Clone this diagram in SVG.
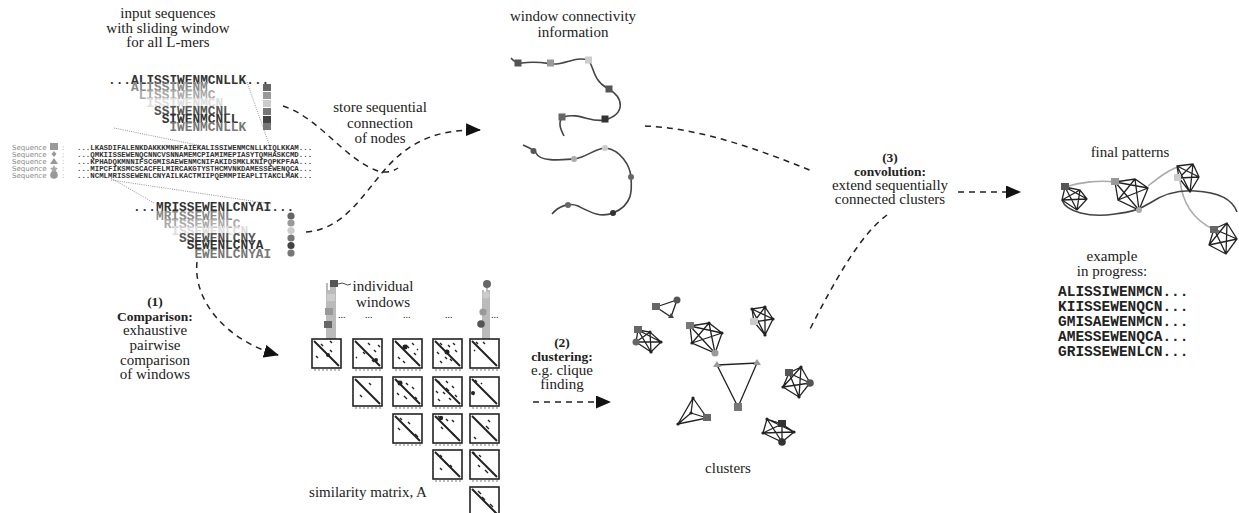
<svg xmlns="http://www.w3.org/2000/svg" xmlns:xlink="http://www.w3.org/1999/xlink" width="1239" height="513" viewBox="0 0 1239 513">
<style>
.lbl{font-family:"Liberation Serif","Times New Roman",serif;font-size:15px;fill:#222;text-anchor:middle}
.bd{font-weight:bold;font-size:13.5px}
.mono{font-family:"Liberation Mono","Courier New",monospace;font-weight:bold}
.seqrow{font-family:"Liberation Mono","Courier New",monospace;font-weight:bold;font-size:7.4px;fill:#333}
.seqlab{font-family:"DejaVu Sans",sans-serif;font-size:7px;fill:#888}
.dash{fill:none;stroke:#222;stroke-width:1.5;stroke-dasharray:6,5}
.dot{fill:none;stroke:#777;stroke-width:0.8;stroke-dasharray:1,1.2}
.curve{fill:none;stroke:#444;stroke-width:1.6}
.lcurve{fill:none;stroke:#aaa;stroke-width:1.6}
.edge{stroke:#222;stroke-width:1.3;fill:none}
.mb{fill:#fff;stroke:#222;stroke-width:1.6}
.md{stroke:#222;stroke-width:1.4;fill:none}
</style>
<defs>
<marker id="ah" markerWidth="15" markerHeight="13" refX="14" refY="6.5" orient="auto" markerUnits="userSpaceOnUse"><path d="M0,0 L15,6.5 L0,13 z" fill="#111"/></marker>
<g id="box">
<rect class="mb" x="0" y="0" width="29" height="29"/>
<path d="M2,2 L27,27" stroke="#222" stroke-width="2"/>
<path d="M3,29v3M7,29v3M11,29v3M15,29v3M19,29v3M23,29v3M27,29v3" stroke="#555" stroke-width="0.8"/>
</g>
</defs>

<g id="input-title">
<text class="lbl" x="168" y="18">input sequences</text>
<text class="lbl" x="168" y="33">with sliding window</text>
<text class="lbl" x="168" y="47">for all L-mers</text>
</g>

<g id="window-group-1">
<path class="dot" d="M247,82 L270,147"/>
<path class="dot" d="M114,128 L207,147"/>
<text class="mono" x="108" y="84" font-size="12.8" fill="#333">...ALISSIWENMCNLLK...</text>
<text class="mono" x="131" y="91" font-size="12.8" fill="#888">ALISSIWENM</text>
<text class="mono" x="138.7" y="99" font-size="12.8" fill="#aaa">LISSIWENMC</text>
<text class="mono" x="146.4" y="107" font-size="12.8" fill="#ddd">ISSIWENMCN</text>
<text class="mono" x="154" y="115" font-size="12.8" fill="#555">SSIWENMCNL</text>
<text class="mono" x="161.7" y="123" font-size="12.8" fill="#333">SIWENMCNLL</text>
<text class="mono" x="169.4" y="131" font-size="12.8" fill="#777">IWENMCNLLK</text>
<rect x="263" y="84" width="8" height="7" fill="#666"/>
<rect x="263" y="92" width="8" height="7" fill="#999"/>
<rect x="263" y="100" width="8" height="7" fill="#ccc"/>
<rect x="263" y="108" width="8" height="7" fill="#777"/>
<rect x="263" y="116" width="8" height="7" fill="#444"/>
<rect x="263" y="123" width="8" height="7" fill="#777"/>
</g>

<g id="sequences">
<text class="seqlab" x="12" y="149.5">Sequence</text>
<text class="seqlab" x="12" y="156.5">Sequence</text>
<text class="seqlab" x="12" y="163.5">Sequence</text>
<text class="seqlab" x="12" y="170.5">Sequence</text>
<text class="seqlab" x="12" y="177.5">Sequence</text>
<rect x="50" y="143" width="8" height="7" fill="#999"/>
<path d="M54,151 l2.5,3 l-2.5,3 l-2.5,-3 z" fill="#999"/>
<path d="M54,158 l4,6 h-8 z" fill="#999"/>
<path d="M54,165 l1.2,2.5 l2.8,0.4 l-2,2 l0.5,2.8 l-2.5,-1.3 l-2.5,1.3 l0.5,-2.8 l-2,-2 l2.8,-0.4 z" fill="#aaa"/>
<circle cx="54" cy="175" r="3.8" fill="#999"/>
<text class="seqlab" x="62" y="149.5">:</text>
<text class="seqlab" x="62" y="156.5">:</text>
<text class="seqlab" x="62" y="163.5">:</text>
<text class="seqlab" x="62" y="170.5">:</text>
<text class="seqlab" x="62" y="177.5">:</text>
<text class="seqrow" x="77" y="149.5">...LKASDIFALENKDAKKKMNHFAIEKALISSIWENMCNLLKIQLKKAM...</text>
<text class="seqrow" x="77" y="156.5">...QMKIISSEWENQCNNCVSNNAMEMCPIAMIMEPIASYTQMHASKCMD...</text>
<text class="seqrow" x="77" y="163.5">...KPHADQKMNNIFSCGMISAEWENMCNIFAKIDSMKLKNIPQPKPFAA...</text>
<text class="seqrow" x="77" y="170.5">...MIPCFIKSMCSCACFELMIRCAKGTYSTHCMVNKDAMESSEWENQCA...</text>
<text class="seqrow" x="77" y="177.5">...NCMLMRISSEWENLCNYAILKACTMIIPQEMMPIEAPLITAKCLMAK...</text>
</g>

<g id="window-group-2">
<path class="dot" d="M111,178 L154,203"/>
<path class="dot" d="M111,180 L272,204"/>
<text class="mono" x="133" y="211" font-size="12.8" fill="#333">...MRISSEWENLCNYAI...</text>
<text class="mono" x="156" y="220" font-size="12.8" fill="#888">MRISSEWENL</text>
<text class="mono" x="163.7" y="228" font-size="12.8" fill="#aaa">RISSEWENLC</text>
<text class="mono" x="171.4" y="235" font-size="12.8" fill="#ddd">ISSEWENLCN</text>
<text class="mono" x="179" y="241.5" font-size="12.8" fill="#555">SSEWENLCNY</text>
<text class="mono" x="186.7" y="249" font-size="12.8" fill="#333">SEWENLCNYA</text>
<text class="mono" x="194.4" y="258" font-size="12.8" fill="#777">EWENLCNYAI</text>
<circle cx="291" cy="216" r="3.6" fill="#666"/>
<circle cx="291" cy="223" r="3.6" fill="#999"/>
<circle cx="291" cy="230.5" r="3.6" fill="#ccc"/>
<circle cx="291" cy="238" r="3.6" fill="#777"/>
<circle cx="291" cy="245.5" r="3.6" fill="#444"/>
<circle cx="291" cy="253" r="3.6" fill="#777"/>
</g>

<g id="store-label">
<text class="lbl" x="380" y="112">store sequential</text>
<text class="lbl" x="380" y="128">connection</text>
<text class="lbl" x="380" y="143">of nodes</text>
</g>

<g id="window-connectivity">
<text class="lbl" x="573" y="21">window connectivity</text>
<text class="lbl" x="573" y="37">information</text>
<path class="curve" d="M511,58 Q516,64 522,63 C535,61 545,63 552,64 C565,65 575,56 588,60 C594,65 592,80 607,88 C625,98 625,114 605,120 C590,123 580,112 563,117 C557,122 561,130 564,136"/>
<rect x="514.5" y="59.5" width="7" height="7" fill="#555"/>
<rect x="547" y="59.5" width="7" height="7" fill="#999"/>
<rect x="585" y="56.5" width="7" height="7" fill="#ccc"/>
<rect x="605.5" y="85.5" width="7" height="7" fill="#555"/>
<rect x="601.5" y="115.5" width="7" height="7" fill="#333"/>
<rect x="558.5" y="113.5" width="7" height="7" fill="#666"/>
<path class="curve" d="M523,145 C530,148 535,150 536,153 C540,162 560,160 574,159 C588,157 595,148 606,148 C620,150 630,165 631,177 C632,190 633,205 613,213 C600,218 590,212 578,206 C568,202 558,207 552,214"/>
<circle cx="533.5" cy="151" r="3" fill="#555"/>
<circle cx="574" cy="159" r="3" fill="#aaa"/>
<circle cx="605" cy="148" r="3" fill="#ccc"/>
<circle cx="631" cy="177" r="3" fill="#666"/>
<circle cx="613" cy="213" r="3" fill="#333"/>
<circle cx="568" cy="205" r="3" fill="#666"/>
</g>

<g id="convolution-label">
<text class="lbl bd" x="890" y="162">(3)</text>
<text class="lbl bd" x="890" y="176">convolution:</text>
<text class="lbl" x="890" y="190">extend sequentially</text>
<text class="lbl" x="890" y="204">connected clusters</text>
</g>

<g id="final-patterns">
<text class="lbl" x="1130" y="157">final patterns</text>
<path class="lcurve" d="M1065,187 C1080,182 1100,180 1115,182"/>
<path class="lcurve" d="M1148,186 C1158,178 1168,170 1178,167"/>
<path class="lcurve" d="M1180,180 C1182,200 1190,218 1213,229"/>
<path class="curve" d="M1062,200 C1066,212 1090,218 1115,214 C1130,212 1139,210 1150,203 C1165,193 1180,190 1195,191 C1215,192 1232,198 1237,212"/>
<path class="edge" d="M1065,187L1080,190L1087,199L1077,210L1062,200Z M1065,187L1087,199 M1065,187L1077,210 M1080,190L1077,210 M1080,190L1062,200 M1087,199L1062,200"/>
<path class="edge" d="M1115,182L1135,179L1148,188L1139,210L1118,200Z M1115,182L1148,188 M1115,182L1139,210 M1135,179L1139,210 M1135,179L1118,200 M1148,188L1118,200"/>
<path class="edge" d="M1177,166L1193,164L1199,177L1190,192L1179,178Z M1177,166L1199,177 M1177,166L1190,192 M1193,164L1190,192 M1193,164L1179,178 M1199,177L1179,178"/>
<path class="edge" d="M1214,229L1227,223L1237,239L1226,254L1209,245Z M1214,229L1237,239 M1214,229L1226,254 M1227,223L1226,254 M1227,223L1209,245 M1237,239L1209,245"/>
<rect x="1061" y="183" width="8" height="7" fill="#555"/>
<rect x="1111" y="178" width="8" height="7" fill="#999"/>
<circle cx="1139" cy="210" r="3" fill="#aaa"/>
<rect x="1174" y="174" width="7" height="7" fill="#ccc"/>
<rect x="1210" y="226" width="8" height="7" fill="#666"/>
<text class="lbl" x="1112" y="261">example</text>
<text class="lbl" x="1112" y="276">in progress:</text>
<text class="mono" x="1058" y="296" font-size="14.5" fill="#222">ALISSIWENMCN...</text>
<text class="mono" x="1058" y="311" font-size="14.5" fill="#222">KIISSEWENQCN...</text>
<text class="mono" x="1058" y="326" font-size="14.5" fill="#222">GMISAEWENMCN...</text>
<text class="mono" x="1058" y="341" font-size="14.5" fill="#222">AMESSEWENQCA...</text>
<text class="mono" x="1058" y="356" font-size="14.5" fill="#222">GRISSEWENLCN...</text>
</g>

<g id="comparison-label">
<text class="lbl bd" x="155" y="306">(1)</text>
<text class="lbl bd" x="155" y="321">Comparison:</text>
<text class="lbl" x="155" y="335">exhaustive</text>
<text class="lbl" x="155" y="350">pairwise</text>
<text class="lbl" x="155" y="365">comparison</text>
<text class="lbl" x="155" y="379">of windows</text>
</g>

<g id="similarity-matrix">
<path d="M327,283V339M329,290V339M331,286V339M333,283V339M335,286V339" stroke="#777" stroke-width="1"/>
<rect x="330" y="280" width="8" height="7" fill="#555"/>
<rect x="327" y="294" width="8" height="7" fill="#ccc"/>
<rect x="325" y="308" width="8" height="7" fill="#999"/>
<rect x="324" y="321" width="8" height="7" fill="#666"/>
<path d="M338,284 q5,-2 7,0 t6,0" stroke="#333" stroke-width="0.9" fill="none"/>
<text class="lbl" x="383" y="291">individual</text>
<text class="lbl" x="383" y="307">windows</text>
<path d="M483,290V339M485,296V339M487,285V339M489,290V339" stroke="#777" stroke-width="1"/>
<circle cx="487" cy="284" r="4" fill="#666"/>
<circle cx="486" cy="295" r="3.6" fill="#ccc"/>
<circle cx="483" cy="312" r="3.6" fill="#999"/>
<circle cx="481" cy="324" r="3.8" fill="#555"/>
<g font-family="Liberation Serif,serif" font-size="10" fill="#222">
<text x="338" y="318">...</text><text x="365" y="318">...</text><text x="403" y="318">...</text><text x="445" y="318">...</text><text x="491" y="318">...</text>
</g>
<use xlink:href="#box" x="312" y="339"/>
<use xlink:href="#box" x="353" y="339"/>
<use xlink:href="#box" x="393" y="339"/>
<use xlink:href="#box" x="433" y="339"/>
<use xlink:href="#box" x="470" y="339"/>
<use xlink:href="#box" x="353" y="377"/>
<use xlink:href="#box" x="393" y="377"/>
<use xlink:href="#box" x="433" y="377"/>
<use xlink:href="#box" x="470" y="377"/>
<use xlink:href="#box" x="393" y="414"/>
<use xlink:href="#box" x="433" y="414"/>
<use xlink:href="#box" x="470" y="414"/>
<use xlink:href="#box" x="433" y="450"/>
<use xlink:href="#box" x="470" y="450"/>
<use xlink:href="#box" x="470" y="487"/>
<path class="md" d="M330,341l2,2 M316,356l2,2 M330,350l2,2 M321,344l2,2"/>
<circle cx="328" cy="355" r="2" fill="#222"/>
<path class="md" d="M368,343l2,2 M374,350l2,2 M363,352l2,2 M372,360l2,2 M356,357l1,1 M378,345l2,2"/>
<circle cx="376" cy="360" r="2" fill="#222"/>
<path class="md" d="M397,343l2,2 M406,345l3,3 M412,343l2,2 M398,357l2,2 M414,353l2,2 M403,361l2,2 M417,349l1,1"/>
<circle cx="405" cy="347" r="2.5" fill="#222"/>
<path class="md" d="M440,343l2,2 M448,345l2,2 M453,343l2,2 M437,352l2,2 M445,357l2,2 M455,350l2,2 M440,361l2,2 M450,359l2,2"/>
<circle cx="447" cy="352" r="2.5" fill="#222"/>
<path class="md" d="M476,342l2,2 M483,342l2,2 M474,350l1,1"/>
<path class="md" d="M369,383l2,2 M360,395l2,2"/>
<path class="md" d="M398,381l3,3 M406,383l2,2 M412,387l2,2 M397,393l2,2 M404,396l3,3 M415,397l2,2"/>
<circle cx="400" cy="383" r="2.5" fill="#222"/>
<path class="md" d="M438,381l2,2 M446,381l2,2 M452,386l2,2 M436,391l2,2 M443,392l2,2 M446,388l3,3 M438,399l2,2 M449,398l2,2 M455,395l2,2"/>
<path class="md" d="M475,380l2,2 M481,383l1,1 M472,393l2,2"/>
<circle cx="473" cy="393" r="2" fill="#222"/>
<path class="md" d="M400,418l2,2 M408,422l2,2 M398,428l2,2 M410,431l3,3 M415,434l3,3"/>
<path class="md" d="M438,416l3,3 M446,419l2,2 M452,420l2,2 M441,427l2,2 M452,433l3,3"/>
<circle cx="441" cy="418" r="2.2" fill="#222"/>
<path class="md" d="M488,420l2,2 M486,426l3,3 M474,437l2,2"/>
<path class="md" d="M440,455l2,2 M445,462l3,3 M450,465l2,2 M440,468l2,2"/>
<path class="md" d="M473,452l2,2 M479,455l2,2 M478,465l2,2 M485,470l3,3"/>
<path class="md" d="M478,491l3,3 M482,497l3,3 M490,504l3,3"/>
<text class="lbl" x="368" y="497">similarity matrix, A</text>
</g>

<g id="clustering-label">
<text class="lbl bd" x="562" y="347">(2)</text>
<text class="lbl bd" x="562" y="361">clustering:</text>
<text class="lbl" x="562" y="375">e.g. clique</text>
<text class="lbl" x="562" y="389">finding</text>
</g>

<g id="clusters">
<path class="edge" d="M656,307L677,300L671,317Z"/>
<path class="edge" d="M638,330L650,332L661,342L651,352L636,342Z M638,330L661,342 M638,330L651,352 M650,332L651,352 M650,332L636,342 M661,342L636,342"/>
<path class="edge" d="M690,326L709,323L722,333L715,353L692,343Z M690,326L722,333 M690,326L715,353 M709,323L715,353 M709,323L692,343 M722,333L692,343"/>
<path class="edge" d="M752,309L765,307L773,319L765,335L754,322Z M752,309L773,319 M752,309L765,335 M765,307L765,335 M765,307L754,322 M773,319L754,322"/>
<path class="edge" d="M717,365L757,363L738,407Z"/>
<path class="edge" d="M693,398L707,418L678,424Z M693,398L691,413 M707,418L691,413 M678,424L691,413"/>
<path class="edge" d="M789,373L801,367L810,383L799,397L783,387Z M789,373L810,383 M789,373L799,397 M801,367L799,397 M801,367L783,387 M810,383L783,387"/>
<path class="edge" d="M767,419L782,424L794,432L782,442L763,433Z M767,419L794,432 M767,419L782,442 M782,424L782,442 M782,424L763,433 M794,432L763,433"/>
<rect x="652" y="303" width="8" height="7" fill="#666"/>
<circle cx="677" cy="300" r="3.5" fill="#555"/>
<path d="M671,313l3,5h-6z" fill="#444"/>
<rect x="634" y="326" width="8" height="7" fill="#666"/>
<circle cx="636" cy="342" r="3.5" fill="#666"/>
<rect x="686" y="322" width="8" height="7" fill="#777"/>
<circle cx="715" cy="353" r="3.5" fill="#999"/>
<rect x="750" y="318" width="8" height="7" fill="#ccc"/>
<path d="M717,361l4,6h-8z M757,359l4,6h-8z" fill="#999"/>
<rect x="734" y="403" width="8" height="8" fill="#777"/>
<rect x="703" y="414" width="8" height="7" fill="#666"/>
<rect x="785" y="369" width="8" height="7" fill="#555"/>
<circle cx="810" cy="383" r="3.8" fill="#555"/>
<rect x="778" y="420" width="8" height="7" fill="#333"/>
<circle cx="782" cy="442" r="3.8" fill="#333"/>
<g fill="#222">
<circle cx="650" cy="332" r="1.6"/><circle cx="661" cy="342" r="1.6"/><circle cx="651" cy="352" r="1.6"/>
<circle cx="709" cy="323" r="1.6"/><circle cx="722" cy="333" r="1.6"/><circle cx="692" cy="343" r="1.6"/>
<circle cx="752" cy="309" r="1.6"/><circle cx="765" cy="307" r="1.6"/><circle cx="773" cy="319" r="1.6"/><circle cx="765" cy="335" r="1.6"/>
<circle cx="693" cy="398" r="1.6"/><circle cx="678" cy="424" r="1.6"/><circle cx="691" cy="413" r="1.6"/>
<circle cx="801" cy="367" r="1.6"/><circle cx="799" cy="397" r="1.6"/><circle cx="783" cy="387" r="1.6"/>
<circle cx="767" cy="419" r="1.6"/><circle cx="794" cy="432" r="1.6"/><circle cx="763" cy="433" r="1.6"/>
</g>
<text class="lbl" x="728" y="473">clusters</text>
</g>

<g id="connectors">
<path class="dash" d="M283,106 C320,118 345,160 378,171 C386,173 392,172 398,168"/>
<path class="dash" d="M306,232 C345,229 362,195 388,166 C412,140 440,129 480,130" marker-end="url(#ah)"/>
<path class="dash" d="M197,262 C193,300 225,340 278,355" marker-end="url(#ah)"/>
<path class="dash" d="M533,402 L610,402" marker-end="url(#ah)"/>
<path class="dash" d="M645,126 C700,128 760,150 812,171"/>
<path class="dash" d="M887,215 C860,235 835,280 808,333"/>
<path class="dash" d="M958,192 L1020,192" marker-end="url(#ah)"/>
</g>
</svg>
